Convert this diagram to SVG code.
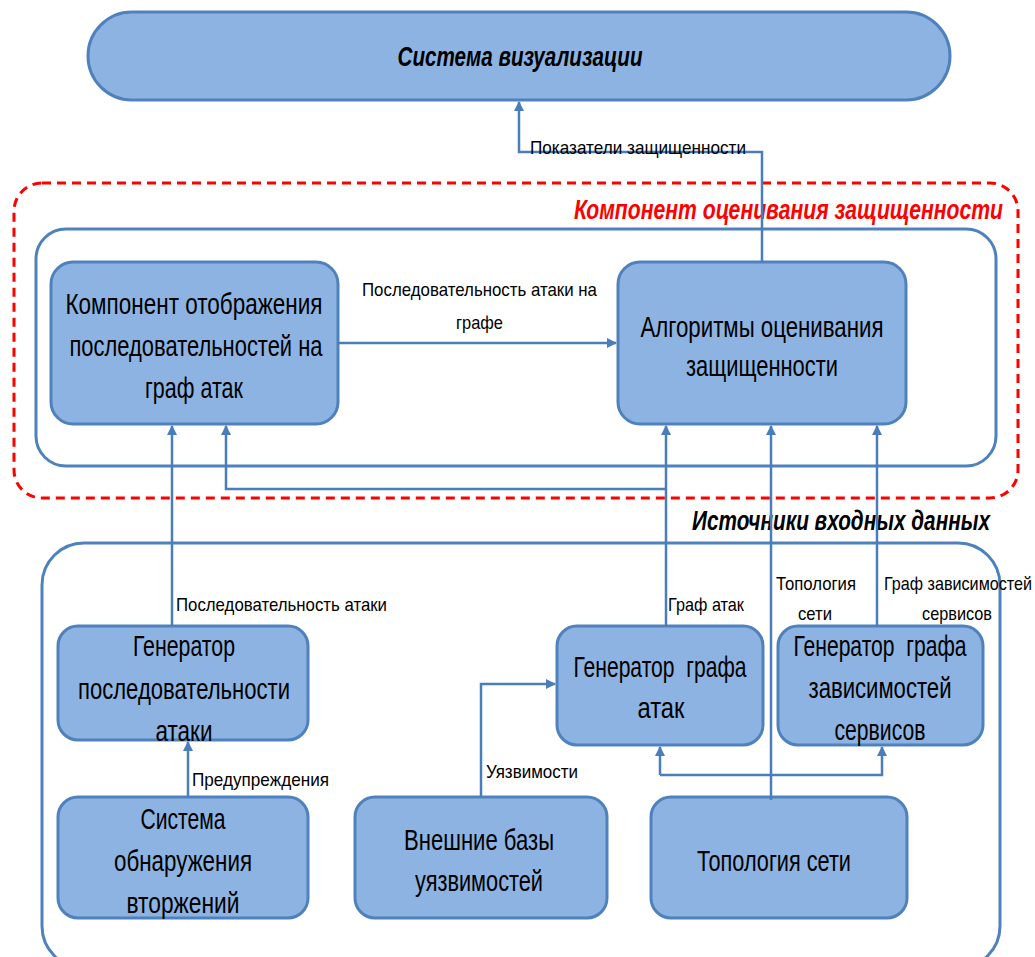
<svg xmlns="http://www.w3.org/2000/svg" width="1035" height="957" viewBox="0 0 1035 957">
<style>
.node{fill:#8DB3E2;stroke:#4F81BD;stroke-width:3}
.frame{fill:#fff;stroke:#4F81BD;stroke-width:3}
.red{fill:none;stroke:#FF0000;stroke-width:3;stroke-dasharray:9 6}
.t{font-family:"Liberation Sans",Arial,sans-serif;font-size:29px;fill:#000;text-anchor:middle;dominant-baseline:central;white-space:pre}
.s{font-family:"Liberation Sans",Arial,sans-serif;font-size:19px;fill:#000;dominant-baseline:central}
.h{font-family:"Liberation Sans",Arial,sans-serif;font-size:27px;font-weight:bold;font-style:italic;dominant-baseline:central}
.c{fill:none;stroke:#4A7EBB;stroke-width:2.5}
</style>
<defs>
<marker id="arr" viewBox="0 0 10 10" refX="9" refY="5" markerWidth="4" markerHeight="4" orient="auto">
<path d="M0,0 L10,5 L0,10 z" fill="#4A7EBB"/>
</marker>
</defs>

<g id="frames">
<rect class="red" x="14" y="183" width="1004" height="315" rx="28"/>
<rect class="frame" x="36" y="229" width="960" height="237" rx="30"/>
<rect class="frame" x="42" y="543" width="958" height="425" rx="42"/>
<text class="h" x="1003" y="210" fill="#FF0000" text-anchor="end" textLength="429" lengthAdjust="spacingAndGlyphs">Компонент оценивания защищенности</text>
<text class="h" x="990" y="521" fill="#000" text-anchor="end" textLength="298" lengthAdjust="spacingAndGlyphs">Источники входных данных</text>
</g>

<g id="viz">
<rect class="node" x="88" y="12" width="862" height="88" rx="44"/>
<text class="h" x="520" y="57" fill="#000" text-anchor="middle" textLength="245" lengthAdjust="spacingAndGlyphs">Система визуализации</text>
</g>

<g id="map">
<rect class="node" x="51" y="262" width="287" height="162" rx="22"/>
<text class="t" x="194" y="304" textLength="257" lengthAdjust="spacingAndGlyphs">Компонент отображения</text>
<text class="t" x="196" y="346" textLength="253" lengthAdjust="spacingAndGlyphs">последовательностей на</text>
<text class="t" x="194" y="388" textLength="98" lengthAdjust="spacingAndGlyphs">граф атак</text>
</g>

<g id="alg">
<rect class="node" x="618" y="262" width="288" height="162" rx="22"/>
<text class="t" x="762" y="327" textLength="243" lengthAdjust="spacingAndGlyphs">Алгоритмы оценивания</text>
<text class="t" x="762" y="366" textLength="152" lengthAdjust="spacingAndGlyphs">защищенности</text>
</g>

<g id="seqgen">
<rect class="node" x="58" y="626" width="250" height="114" rx="20"/>
<text class="t" x="184" y="646" textLength="102" lengthAdjust="spacingAndGlyphs">Генератор</text>
<text class="t" x="184" y="689" textLength="212" lengthAdjust="spacingAndGlyphs">последовательности</text>
<text class="t" x="184" y="731" textLength="57" lengthAdjust="spacingAndGlyphs">атаки</text>
</g>

<g id="ids">
<rect class="node" x="58" y="797" width="250" height="121" rx="20"/>
<text class="t" x="183" y="819" textLength="85" lengthAdjust="spacingAndGlyphs">Система</text>
<text class="t" x="183" y="861" textLength="138" lengthAdjust="spacingAndGlyphs">обнаружения</text>
<text class="t" x="183" y="903" textLength="113" lengthAdjust="spacingAndGlyphs">вторжений</text>
</g>

<g id="vulndb">
<rect class="node" x="355" y="797" width="252" height="121" rx="20"/>
<text class="t" x="479" y="840" textLength="150" lengthAdjust="spacingAndGlyphs">Внешние базы</text>
<text class="t" x="479" y="881" textLength="128" lengthAdjust="spacingAndGlyphs">уязвимостей</text>
</g>

<g id="topo">
<rect class="node" x="651" y="797" width="256" height="121" rx="20"/>
<text class="t" x="774" y="861" textLength="154" lengthAdjust="spacingAndGlyphs">Топология сети</text>
</g>

<g id="attgen">
<rect class="node" x="557" y="626" width="206" height="119" rx="20"/>
<text class="t" x="660" y="667" textLength="173" lengthAdjust="spacingAndGlyphs">Генератор&#160; графа</text>
<text class="t" x="661" y="708" textLength="47" lengthAdjust="spacingAndGlyphs">атак</text>
</g>

<g id="depgen">
<rect class="node" x="778" y="626" width="205" height="119" rx="20"/>
<text class="t" x="880" y="646" textLength="173" lengthAdjust="spacingAndGlyphs">Генератор&#160; графа</text>
<text class="t" x="880" y="688" textLength="143" lengthAdjust="spacingAndGlyphs">зависимостей</text>
<text class="t" x="880" y="730" textLength="91" lengthAdjust="spacingAndGlyphs">сервисов</text>
</g>

<g id="connectors">
<path class="c" d="M762,262 V152 H519 V102" marker-end="url(#arr)"/>
<path class="c" d="M338,343 H616" marker-end="url(#arr)"/>
<path class="c" d="M172,626 V426" marker-end="url(#arr)"/>
<path class="c" d="M666,489 H226 V426" marker-end="url(#arr)"/>
<path class="c" d="M666,627 V426" marker-end="url(#arr)"/>
<path class="c" d="M771,800 V426" marker-end="url(#arr)"/>
<path class="c" d="M877,627 V426" marker-end="url(#arr)"/>
<path class="c" d="M188,797 V742" marker-end="url(#arr)"/>
<path class="c" d="M481,797 V684 H555" marker-end="url(#arr)"/>
<path class="c" d="M660,775 V747" marker-end="url(#arr)"/>
<path class="c" d="M660,775 H882 V747" marker-end="url(#arr)"/>
<text class="s" x="530" y="147" textLength="216" lengthAdjust="spacingAndGlyphs">Показатели защищенности</text>
<text class="s" x="362" y="289" textLength="235" lengthAdjust="spacingAndGlyphs">Последовательность атаки на</text>
<text class="s" x="456" y="322" textLength="47" lengthAdjust="spacingAndGlyphs">графе</text>
<text class="s" x="176" y="604" textLength="211" lengthAdjust="spacingAndGlyphs">Последовательность атаки</text>
<text class="s" x="192" y="779" textLength="137" lengthAdjust="spacingAndGlyphs">Предупреждения</text>
<text class="s" x="486" y="771" textLength="92" lengthAdjust="spacingAndGlyphs">Уязвимости</text>
<text class="s" x="668" y="604" textLength="76" lengthAdjust="spacingAndGlyphs">Граф атак</text>
<text class="s" x="776" y="583" textLength="80" lengthAdjust="spacingAndGlyphs">Топология</text>
<text class="s" x="798" y="613" textLength="34" lengthAdjust="spacingAndGlyphs">сети</text>
<text class="s" x="884" y="583" textLength="148" lengthAdjust="spacingAndGlyphs">Граф зависимостей</text>
<text class="s" x="922" y="613" textLength="70" lengthAdjust="spacingAndGlyphs">сервисов</text>
</g>
</svg>
